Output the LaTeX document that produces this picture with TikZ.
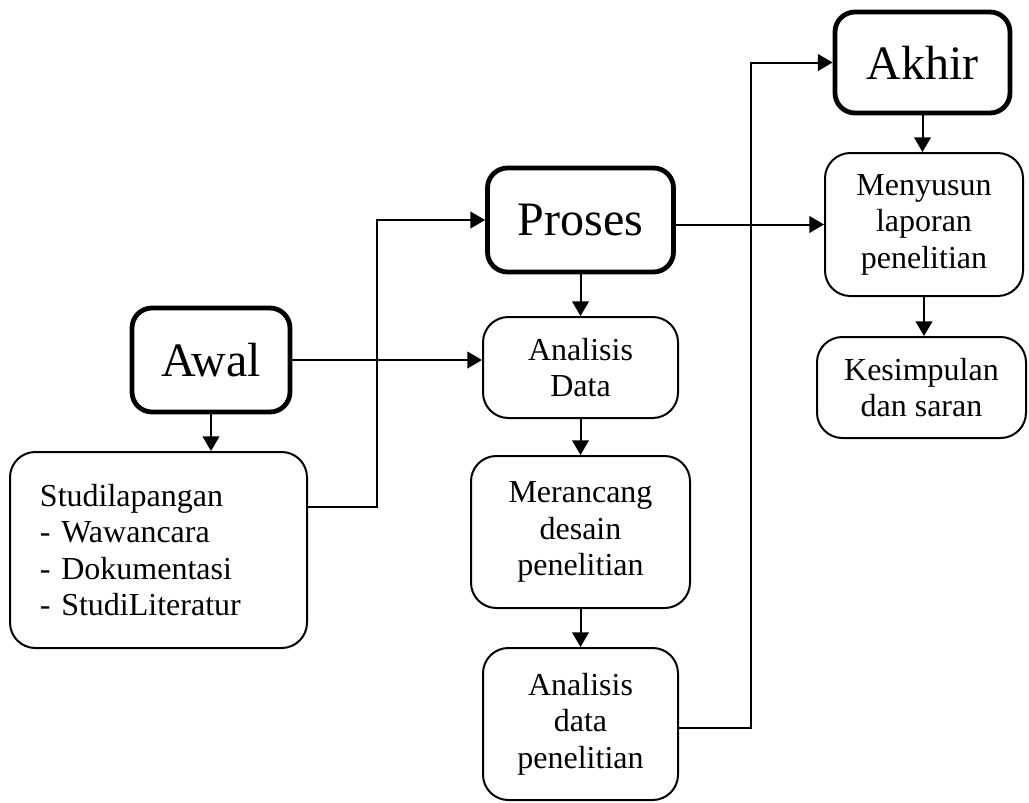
\documentclass[tikz,border=0pt]{standalone}
\usepackage{fontspec}
\setmainfont{Liberation Serif}
\usetikzlibrary{arrows.meta}

\tikzset{
  bigbox/.style={draw, line width=3.6pt, rounded corners=15pt, inner sep=0pt, align=center,
    font=\fontsize{36}{40}\selectfont},
  stepbox/.style={draw, line width=1.5pt, rounded corners=19pt, inner sep=0pt, align=center,
    font=\fontsize{24}{27.4}\selectfont},
  arr/.style={line width=1.5pt, -{Triangle[length=11pt, width=12.5pt]}}
}

\begin{document}
\begin{tikzpicture}[x=0.75pt, y=-0.75pt]
\useasboundingbox (0,0) rectangle (1029,803);
% Awal
\node[bigbox, minimum width=118.5pt, minimum height=78pt] (awal) at (211,360) {Awal};
\node[stepbox, minimum width=222.75pt, minimum height=147pt, align=left, inner xsep=22.5pt,
  text width=177.75pt] (studi) at (158.5,550)
  {Studilapangan\\- Wawancara\\- Dokumentasi\\- StudiLiteratur};
% Proses
\node[bigbox, minimum width=139.5pt, minimum height=78pt] (proses) at (580.5,220) {Proses};
\node[stepbox, minimum width=146.25pt, minimum height=75.75pt] (analisis) at (580.5,367.5) {Analisis\\Data};
\node[stepbox, minimum width=164.25pt, minimum height=114pt] (rancang) at (580.5,532) {Merancang\\desain\\penelitian};
\node[stepbox, minimum width=146.25pt, minimum height=114pt] (anpen) at (580.5,724) {Analisis\\data\\penelitian};
% Akhir
\node[bigbox, minimum width=131.25pt, minimum height=75.75pt] (akhir) at (922.5,62.5) {Akhir};
\node[stepbox, minimum width=148.5pt, minimum height=107.25pt] (laporan) at (924,224.5) {Menyusun\\laporan\\penelitian};
\node[stepbox, minimum width=156.75pt, minimum height=75.75pt] (simpul) at (921.5,387.5) {Kesimpulan\\dan saran};

\coordinate (kiri) at (377,507);
\coordinate (kanan) at (751,728);

\draw[arr] (awal.south) -- (awal.south |- studi.north);
\draw[arr] (awal.east) -- (awal.east -| analisis.west);
\draw[arr] (studi.east |- kiri) -- (kiri) |- (proses.west);
\draw[arr] (proses) -- (analisis);
\draw[arr] (analisis) -- (rancang);
\draw[arr] (rancang) -- (anpen);
\draw[arr] (anpen.east |- kanan) -- (kanan) |- (akhir.west);
\draw[arr] (proses.east |- laporan.west) -- (laporan.west);
\draw[arr] (akhir.south) -- (akhir.south |- laporan.north);
\draw[arr] (laporan.south) -- (laporan.south |- simpul.north);
\end{tikzpicture}
\end{document}
